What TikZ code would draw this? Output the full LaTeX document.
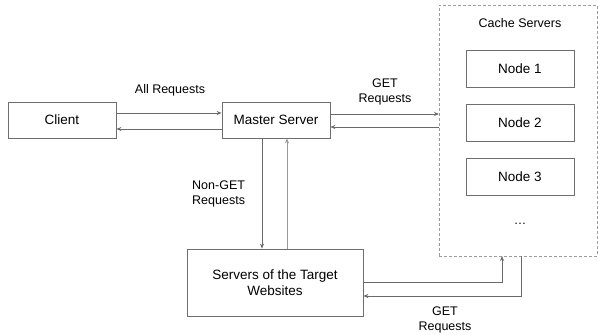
\documentclass[tikz,border=0pt]{standalone}
\usepackage{fontspec}
\setmainfont{Liberation Sans}
\usetikzlibrary{arrows.meta}
\definecolor{boxline}{HTML}{6E6E6E}
\definecolor{arrowline}{HTML}{6A6A6A}
\definecolor{lightline}{HTML}{9A9A9A}
\definecolor{dashline}{HTML}{9C9C9C}
\begin{document}
\begin{tikzpicture}[x=1pt,y=-1pt,
  server/.style={draw=boxline,line width=0.8pt,fill=white,inner sep=0pt,font=\fontsize{13.5}{16}\selectfont,align=center},
  flow/.style={draw=arrowline,line width=0.8pt,-{Stealth[length=5pt,width=4pt]}},
  flowlight/.style={draw=lightline,line width=1pt,-{Stealth[length=5pt,width=4pt]}},
  lbl/.style={font=\fontsize{12.5}{15}\selectfont,text=black,inner sep=0pt}]
\useasboundingbox (0,0) rectangle (598,335);
\fill[white] (0,0) rectangle (598,335);

% cache cluster
\node[draw=dashline,dash pattern=on 3pt off 2pt,line width=0.7pt,minimum width=158pt,minimum height=251pt,inner sep=0pt] (cache) at (518,130.5) {};
\node[lbl] (cachelbl) at (520,23) {Cache Servers};
\node[server,minimum width=108pt,minimum height=37pt] (n1) at (520,68.5) {Node 1};
\node[server,minimum width=108pt,minimum height=37pt] (n2) at (520,122.5) {Node 2};
\node[server,minimum width=108pt,minimum height=37pt] (n3) at (520,176.5) {Node 3};
\node[lbl] (dots) at (520,224) {\dots};

% main servers
\node[server,minimum width=108pt,minimum height=36pt] (client) at (62,120) {Client};
\node[server,minimum width=108pt,minimum height=36pt] (master) at (276,120) {Master Server};
\node[server,minimum width=176pt,minimum height=67pt] (target) at (275,282.5) {Servers of the Target\\Websites};

% coordinates on cache box edges
\coordinate (cin) at (439,114);
\coordinate (cout) at (439,127);
\coordinate (cbin) at (502,256);
\coordinate (cbout) at (521,256);

% client <-> master
\draw[flow] (client.east |- 0,113) -- (master.west |- 0,113);
\draw[flow] (master.west |- 0,129) -- (client.east |- 0,129);
% master <-> cache
\draw[flow] (master.east |- 0,114) -- (cin);
\draw[flow] (cout) -- (master.east |- 0,127);
% master <-> target
\draw[flow] (master.south -| 262,0) -- (target.north -| 262,0);
\draw[flowlight] (target.north -| 287,0) -- (master.south -| 287,0);
% target <-> cache
\draw[flow] (target.east |- 0,282) -| (cbin);
\draw[flow] (cbout) |- (target.east |- 0,296);

% labels
\node[lbl] (l1) at (170,90) {All Requests};
\node[lbl,align=center] (l2) at (385,92) {GET\\Requests};
\node[lbl,align=left,anchor=west] (l3) at (192,194) {Non-GET\\Requests};
\node[lbl,align=center] (l4) at (445,320) {GET\\Requests};
\end{tikzpicture}
\end{document}
